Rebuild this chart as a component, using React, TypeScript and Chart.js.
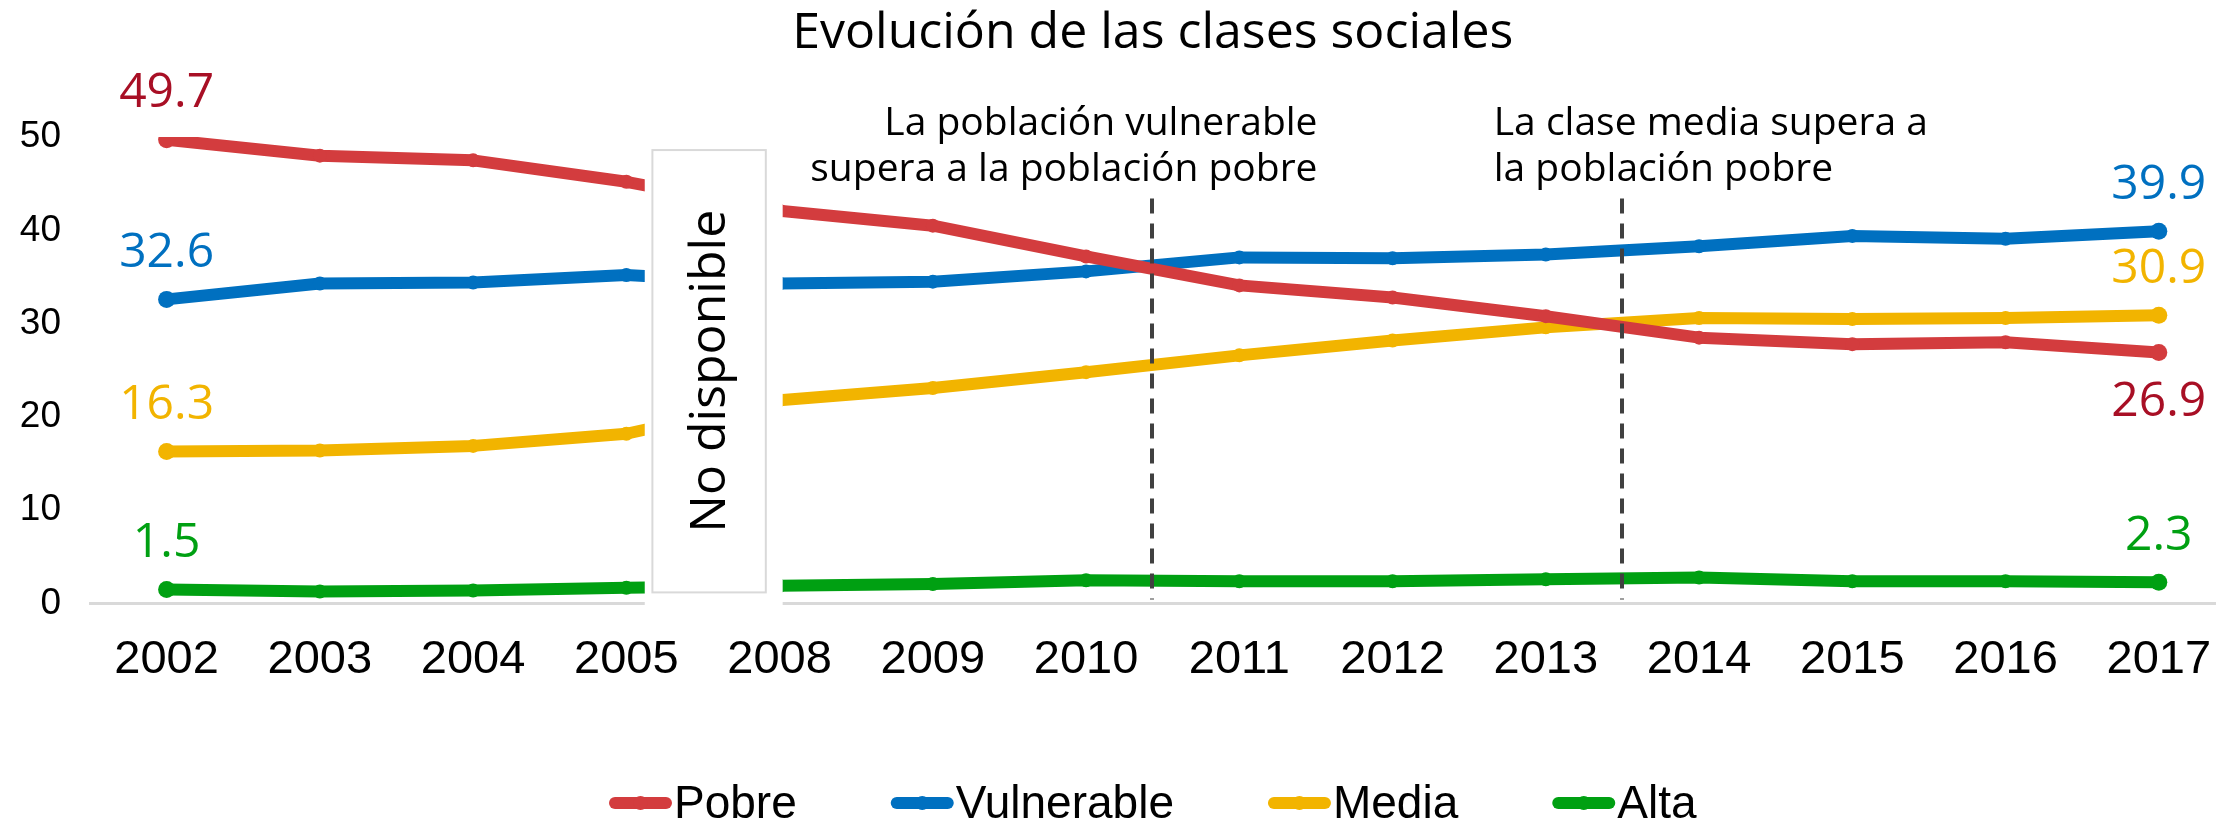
import { useEffect, useRef } from "react";
import { Chart, registerables } from "chart.js";

Chart.register(...registerables);

// ---- data ----
const years = ["2002", "2003", "2004", "2005", "2008", "2009", "2010", "2011", "2012", "2013", "2014", "2015", "2016", "2017"];
const pobre = [49.7, 48.0, 47.5, 45.2, 42.1, 40.5, 37.2, 34.1, 32.8, 30.8, 28.5, 27.8, 28.0, 26.9];
const vulnerable = [32.6, 34.3, 34.4, 35.2, 34.3, 34.5, 35.6, 37.1, 37.0, 37.4, 38.3, 39.4, 39.1, 39.9];
const media = [16.3, 16.4, 16.9, 18.2, 21.8, 23.1, 24.8, 26.6, 28.2, 29.6, 30.6, 30.5, 30.6, 30.9];
const alta = [1.5, 1.3, 1.4, 1.7, 1.9, 2.1, 2.5, 2.4, 2.4, 2.6, 2.8, 2.4, 2.4, 2.3];
const seriesNames = ["Pobre", "Vulnerable", "Media", "Alta"];
const yTickValues = [0, 10, 20, 30, 40, 50];
const titleText = "Evolución de las clases sociales";
const gapText = "No disponible";
const noteTexts = [
  ["La población vulnerable", "supera a la población pobre"],
  ["La clase media supera a", "la población pobre"],
];

// ---- styles / positions ----
const lineColors = ["#D33C3E", "#0070C0", "#F2B400", "#00A012"];
const labelColors = ["#A80F25", "#0070C0", "#F2B400", "#00A012"];
const endLabelBelow = [true, false, false, false];
const noteLineX = [6.43, 9.5];
const noteTextX = [7.51, 8.66];
const noteAlign: CanvasTextAlign[] = ["right", "left"];
const noteLineTop = 43.4;
const maskRange = [3.12, 4.02];
const boxRange = [3.17, 3.91];
const boxTop = 48.6;
const boxBottom = 1.2;

const ARIAL = "'Liberation Sans', Arial, sans-serif";
const MONT = "'Open Sans', sans-serif";

export default function App() {
  const ref = useRef<HTMLCanvasElement>(null);

  useEffect(() => {
    const canvas = ref.current!;
    const series = [pobre, vulnerable, media, alta];
    const last = years.length - 1;

    const overlay = {
      id: "overlay",
      afterDatasetsDraw(chart: any) {
        const { ctx, scales, chartArea } = chart;
        const x = scales.x;
        const y = scales.y;
        ctx.save();

        // white mask over the missing years
        const m0 = x.getPixelForValue(maskRange[0]);
        const m1 = x.getPixelForValue(maskRange[1]);
        const bt = y.getPixelForValue(boxTop);
        ctx.fillStyle = "#ffffff";
        ctx.fillRect(m0, bt - 8, m1 - m0, y.getPixelForValue(0) - bt + 20);

        // bordered box
        const b0 = x.getPixelForValue(boxRange[0]);
        const b1 = x.getPixelForValue(boxRange[1]);
        const bb = y.getPixelForValue(boxBottom);
        ctx.strokeStyle = "#d9d9d9";
        ctx.lineWidth = 2;
        ctx.strokeRect(b0, bt, b1 - b0, bb - bt);

        ctx.save();
        ctx.translate((b0 + b1) / 2 + 2, (bt + bb) / 2);
        ctx.rotate(-Math.PI / 2);
        ctx.fillStyle = "#000";
        ctx.font = `50px ${MONT}`;
        ctx.textAlign = "center";
        ctx.textBaseline = "middle";
        ctx.fillText(gapText, 0, 0);
        ctx.restore();

        // dashed reference lines
        ctx.strokeStyle = "#404040";
        ctx.lineWidth = 4;
        ctx.setLineDash([15, 10]);
        noteLineX.forEach((v) => {
          const px = Math.round(x.getPixelForValue(v));
          ctx.beginPath();
          ctx.moveTo(px, y.getPixelForValue(noteLineTop));
          ctx.lineTo(px, y.getPixelForValue(0) - 4);
          ctx.stroke();
        });
        ctx.setLineDash([]);

        // notes
        ctx.fillStyle = "#000";
        ctx.font = `39px ${MONT}`;
        ctx.textBaseline = "alphabetic";
        noteTexts.forEach((lines, i) => {
          ctx.textAlign = noteAlign[i];
          const px = x.getPixelForValue(noteTextX[i]);
          lines.forEach((t, j) => {
            ctx.fillText(t, px, chartArea.top - 2 + j * 46);
          });
        });

        // value labels at the ends
        ctx.font = `48px ${MONT}`;
        ctx.textAlign = "center";
        ctx.textBaseline = "middle";
        series.forEach((s, i) => {
          ctx.fillStyle = labelColors[i];
          const x0 = x.getPixelForValue(0);
          const y0 = y.getPixelForValue(s[0]);
          ctx.fillText(s[0].toFixed(1), x0, y0 - 46);
          const x1 = x.getPixelForValue(last);
          const y1 = y.getPixelForValue(s[last]);
          ctx.fillText(s[last].toFixed(1), x1, endLabelBelow[i] ? y1 + 50 : y1 - 46);
        });

        // legend
        ctx.font = `46px ${ARIAL}`;
        const swW = 63;
        const swGap = 2;
        const itemGap = 94;
        const widths = seriesNames.map((n) => ctx.measureText(n).width);
        const total = widths.reduce((a, w) => a + swW + swGap + w, 0) + itemGap * (seriesNames.length - 1);
        let lx = (chartArea.left + chartArea.right) / 2 - total / 2;
        const ly = 803;
        ctx.textAlign = "left";
        ctx.textBaseline = "middle";
        seriesNames.forEach((n, i) => {
          ctx.strokeStyle = lineColors[i];
          ctx.fillStyle = lineColors[i];
          ctx.lineWidth = 12;
          ctx.lineCap = "round";
          ctx.beginPath();
          ctx.moveTo(lx + 6, ly);
          ctx.lineTo(lx + swW - 6, ly);
          ctx.stroke();
          ctx.beginPath();
          ctx.arc(lx + swW / 2, ly, 7, 0, Math.PI * 2);
          ctx.fill();
          ctx.fillStyle = "#000";
          ctx.fillText(n, lx + swW + swGap, ly + 2);
          lx += swW + swGap + widths[i] + itemGap;
        });

        ctx.restore();
      },
    };

    const chart = new Chart(canvas, {
      type: "line",
      data: {
        datasets: series.map((s, i) => ({
          label: seriesNames[i],
          data: s.map((v, j) => ({ x: j, y: v })),
          borderColor: lineColors[i],
          backgroundColor: lineColors[i],
          borderWidth: 12,
          borderJoinStyle: "round" as const,
          pointRadius: (c: any) => (c.dataIndex === 0 || c.dataIndex === last ? 8.5 : 7),
          pointBorderWidth: 0,
          pointHoverRadius: 8,
          tension: 0,
        })),
      },
      options: {
        responsive: false,
        animation: false,
        layout: { padding: { left: 0, right: 0, top: 0, bottom: 106 } },
        scales: {
          x: {
            type: "linear",
            min: -0.5,
            max: 13.37,
            grid: { display: false, drawTicks: false },
            border: { display: true, color: "#d9d9d9", width: 3 },
            afterBuildTicks: (s: any) => {
              s.ticks = years.map((_, i) => ({ value: i }));
            },
            afterFit: (s: any) => {
              s.paddingLeft = 0;
              s.paddingRight = 0;
            },
            ticks: {
              autoSkip: false,
              maxRotation: 0,
              padding: 28,
              color: "#000",
              font: { family: ARIAL, size: 47 },
              callback: (v: any) => years[v as number] ?? "",
            },
          },
          y: {
            min: 0,
            max: 50,
            grid: { display: false, drawTicks: false },
            border: { display: false },
            afterBuildTicks: (s: any) => {
              s.ticks = yTickValues.map((v) => ({ value: v }));
            },
            afterFit: (s: any) => {
              s.width = 90;
            },
            ticks: {
              padding: 29,
              color: "#000",
              font: { family: ARIAL, size: 37 },
            },
          },
        },
        plugins: {
          legend: { display: false },
          tooltip: { enabled: false },
          title: {
            display: true,
            text: titleText,
            fullSize: false,
            color: "#000",
            font: { family: MONT, size: 50, weight: "normal" },
            padding: { top: 4, bottom: 73 },
          },
        },
      },
      plugins: [overlay],
    });

    return () => chart.destroy();
  }, []);

  return (
    <div style={{ position: "fixed", left: 0, top: 0, width: 2224, height: 822, background: "#fff" }}>
      <canvas ref={ref} width={2224} height={822} style={{ display: "block" }} />
    </div>
  );
}
